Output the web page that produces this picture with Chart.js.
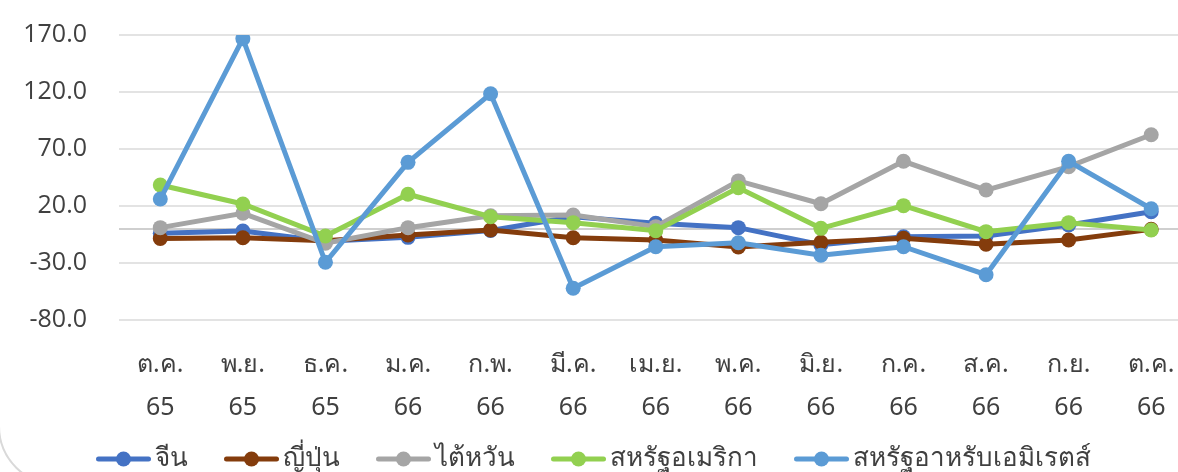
<!DOCTYPE html>
<html>
<head>
<meta charset="utf-8">
<script src="https://cdn.jsdelivr.net/npm/chart.js@4"></script>
<style>
  html, body { margin: 0; padding: 0; background: #fff; overflow: hidden; width: 1178px; height: 472px; }
  #frame { position: absolute; left: -2px; top: -100px; width: 1400px; height: 586px; border: 2px solid #d9d9d9; border-radius: 60px; box-sizing: border-box; }
  #wrap { position: absolute; left: 0; top: 0; width: 1200px; height: 482px; }
</style>
</head>
<body>
<div id="frame"></div>
<div id="wrap"><canvas id="c" width="1200" height="482"></canvas></div>
<script>
const categories = [["ต.ค.","65"],["พ.ย.","65"],["ธ.ค.","65"],["ม.ค.","66"],["ก.พ.","66"],["มี.ค.","66"],["เม.ย.","66"],["พ.ค.","66"],["มิ.ย.","66"],["ก.ค.","66"],["ส.ค.","66"],["ก.ย.","66"],["ต.ค.","66"]];
const seriesNames = ["จีน","ญี่ปุ่น","ไต้หวัน","สหรัฐอเมริกา","สหรัฐอาหรับเอมิเรตส์"];
const china  = [-4, -2, -11, -7.5, -1.5, 10.5, 4.8, 1, -14, -7, -6.3, 3.3, 15];
const japan  = [-8.5, -7.8, -10.5, -5.4, -1, -7.8, -9.8, -16, -11.8, -8.3, -13.6, -9.8, -0.5];
const taiwan = [1, 13.6, -12.7, 1, 11.5, 12.1, 1.9, 42, 22, 59.2, 34, 54.5, 82.5];
const usa    = [38.4, 21.8, -6.3, 30.3, 10.6, 5.4, -1.7, 36, 0.4, 20.3, -2.5, 5.4, -1];
const uae    = [26.1, 166.8, -29.4, 58.3, 118.5, -52.2, -15.7, -12.2, -23.2, -15.7, -40.3, 59.2, 17.6];
const yMin = -80, yMax = 170, yStep = 50;

const colors = ["#4472C4", "#843C0C", "#A5A5A5", "#92D050", "#5B9BD5"];
const seriesData = [china, japan, taiwan, usa, uae];

function makeIcon(color) {
  const cv = document.createElement('canvas');
  cv.width = 80; cv.height = 18;
  const g = cv.getContext('2d');
  g.strokeStyle = color; g.lineWidth = 5; g.lineCap = 'round';
  g.beginPath(); g.moveTo(27.5, 9); g.lineTo(77.5, 9); g.stroke();
  g.fillStyle = color;
  g.beginPath(); g.arc(52.5, 9, 7.5, 0, Math.PI * 2); g.fill();
  return cv;
}
const icons = colors.map(makeIcon);

const datasets = seriesNames.map((name, i) => ({
  label: name,
  data: seriesData[i],
  borderColor: colors[i],
  backgroundColor: colors[i],
  pointBackgroundColor: colors[i],
  pointBorderColor: colors[i],
  borderWidth: 5,
  pointRadius: 7.5,
  pointBorderWidth: 0,
  tension: 0,
  order: 5 - i
}));

const legendShift = {
  id: 'legendShift',
  afterLayout(chart) {
    const dx = -11;
    chart.legend.left += dx;
    chart.legend.right += dx;
  }
};

new Chart(document.getElementById('c'), {
  type: 'line',
  data: { labels: categories, datasets },
  plugins: [legendShift],
  options: {
    responsive: false,
    animation: false,
    layout: { padding: { top: 35, right: 7, left: 0, bottom: 0 } },
    plugins: {
      tooltip: { enabled: false },
      legend: {
        position: 'bottom',
        labels: {
          usePointStyle: true,
          pointStyleWidth: 62,
          padding: 20,
          color: '#404040',
          font: { size: 26, family: "'Noto Sans', 'Open Sans', sans-serif" },
          generateLabels(chart) {
            return chart.data.datasets.map((d, i) => ({
              text: d.label,
              fillStyle: colors[i],
              strokeStyle: colors[i],
              lineWidth: 0,
              pointStyle: icons[i],
              datasetIndex: i,
              hidden: false,
              fontColor: '#404040'
            }));
          }
        }
      }
    },
    scales: {
      x: {
        offset: true,
        grid: { display: false },
        border: { display: false },
        ticks: {
          color: '#404040',
          padding: 15,
          maxRotation: 0,
          autoSkip: false,
          font: { size: 25, family: "'Noto Sans', 'Open Sans', sans-serif", lineHeight: 1.72 }
        },
        afterFit(s) { s.height = 106; s.paddingLeft = 0; s.paddingRight = 0; }
      },
      y: {
        min: yMin, max: yMax,
        border: { display: false },
        grid: {
          color: (c) => (c.tick && c.tick.value === 0) ? '#cfcfcf' : '#e3e3e3',
          lineWidth: 2,
          drawTicks: false
        },
        ticks: {
          stepSize: yStep,
          padding: 32,
          color: '#404040',
          font: { size: 25, family: "'Open Sans', sans-serif" },
          callback: (v) => v === 0 ? '' : Number(v).toFixed(1)
        },
        afterBuildTicks(s) {
          const t = [];
          for (let v = yMin; v <= yMax; v += yStep) t.push({ value: v });
          t.push({ value: 0 });
          s.ticks = t;
        },
        afterFit(s) { s.width = 119; s.paddingTop = 0; s.paddingBottom = 0; }
      }
    }
  }
});
</script>
</body>
</html>
